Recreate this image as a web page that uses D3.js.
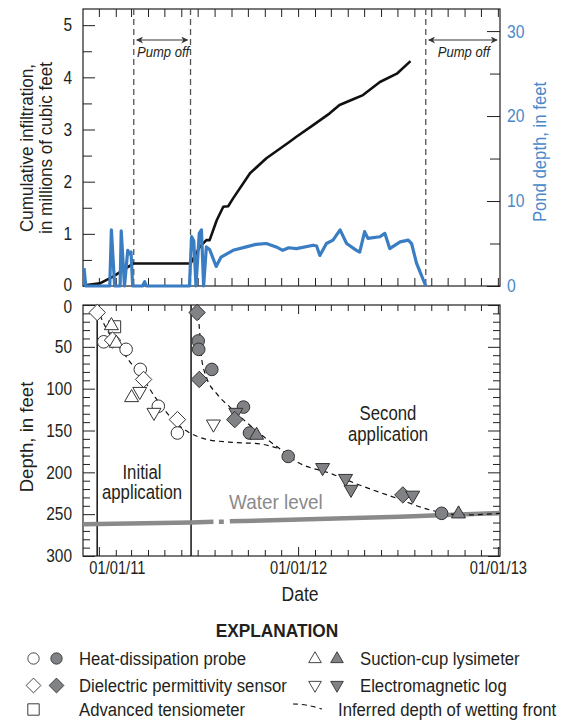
<!DOCTYPE html>
<html>
<head>
<meta charset="utf-8">
<script src="https://cdn.jsdelivr.net/npm/d3@7"></script>
<style>
  html, body { margin: 0; padding: 0; background: #fff; }
  svg { display: block; }
  text { font-family: "Liberation Sans", Arial, sans-serif; fill: #231f20; }
</style>
</head>
<body>
<svg id="chart" width="567" height="723"></svg>
<script>
// ---- Cumulative infiltration (millions of cubic feet) ----
const infilDates = ['2010-12-09','2011-01-02','2011-01-26','2011-02-14','2011-03-04','2011-06-17',
  '2011-07-04','2011-07-16','2011-07-22','2011-08-04','2011-08-16','2011-08-25','2011-09-03',
  '2011-10-04','2011-11-03','2011-12-15','2011-12-28','2012-01-27','2012-02-27','2012-03-16',
  '2012-04-10','2012-04-28','2012-05-29','2012-06-29','2012-07-24'];
const infilValues = [0.02,0.05,0.18,0.31,0.43,0.43,
  0.75,0.88,0.88,1.26,1.52,1.53,1.68,
  2.16,2.45,2.76,2.86,3.08,3.31,3.47,
  3.58,3.66,3.91,4.07,4.31];

// ---- Pond depth (feet) ----
const pondDates = ['2010-12-04','2010-12-07','2011-01-20','2011-01-23','2011-01-29','2011-02-08',
  '2011-02-10','2011-02-16','2011-02-22','2011-02-25','2011-02-28','2011-03-03','2011-03-21',
  '2011-03-25','2011-03-28','2011-06-15','2011-06-19','2011-06-23','2011-06-27','2011-07-03',
  '2011-07-07','2011-07-11','2011-07-16','2011-07-22','2011-08-03','2011-08-12','2011-09-03',
  '2011-09-27','2011-10-15','2011-11-03','2011-11-21','2011-12-03','2011-12-14','2011-12-28',
  '2012-01-28','2012-02-03','2012-02-09','2012-02-21','2012-03-04','2012-03-17','2012-03-29',
  '2012-04-16','2012-04-22','2012-05-01','2012-05-07','2012-05-29','2012-06-07','2012-06-16',
  '2012-07-05','2012-07-20','2012-07-26','2012-08-04','2012-08-21'];
const pondValues = [2.1,0,0,6.6,0,0,
  6.5,0,4.2,3.8,4.0,0,0,
  0.5,0,0,5.8,5.3,0,6.2,
  6.6,0,4.6,4.3,2.3,3.4,4.2,
  4.6,4.9,5.0,4.6,4.2,4.5,4.4,
  4.8,4.7,3.6,5.0,5.4,6.6,5.0,
  4.2,4.0,6.4,5.6,5.8,6.2,4.4,
  5.2,5.4,5.0,2.7,0];

// ---- Events ----
const pumpOffStarts = ['2011-03-05','2012-08-21'];
const pumpOffEnds   = ['2011-06-17','2013-01-04'];
const pumpLines     = ['2011-03-05','2011-06-17','2012-08-21'];
const applicationDates = ['2010-12-28','2011-06-18'];

// ---- Wetting-front observations (depth, feet) ----
const initialSensors = ['diamond','square','triangleUp','circle','diamond','triangleUp','circle',
  'circle','diamond','triangleUp','triangleDown','circle','triangleDown','diamond','circle','triangleDown'];
const initialDates = ['2010-12-28','2011-01-29','2011-01-23','2011-01-09','2011-01-25','2011-02-01',
  '2011-02-19','2011-03-17','2011-03-23','2011-03-01','2011-03-16','2011-04-19','2011-04-11',
  '2011-05-24','2011-05-24','2011-07-29'];
const initialDepths = [9,26,24,44,42,45,53,77,89,110,104,121,129,137,153,143];

const secondSensors = ['diamond','circle','circle','diamond','circle','circle','triangleDown','diamond',
  'circle','triangleUp','circle','triangleDown','triangleDown','triangleDown','diamond','triangleDown',
  'circle','triangleUp'];
const secondDates = ['2011-06-29','2011-07-01','2011-07-02','2011-07-03','2011-07-26','2011-09-22',
  '2011-09-08','2011-09-06','2011-10-03','2011-10-16','2011-12-13','2012-02-14','2012-03-27',
  '2012-04-06','2012-07-10','2012-07-28','2012-09-19','2012-10-20'];
const secondDepths = [9,43,53,89,77,122,129,137,153,155,181,195,208,221,227,228,249,249];

// ---- Inferred depth of wetting front ----
const front1Dates = ['2011-01-02','2011-01-09','2011-01-20','2011-02-04','2011-02-26','2011-03-22',
  '2011-04-13','2011-05-01','2011-05-23','2011-06-16','2011-07-13','2011-08-28','2011-10-22','2011-11-28'];
const front1Depths = [12,22,35,48,68,88,110,126,142,153,160,164,166,172];
const front2Dates = ['2011-07-01','2011-07-04','2011-07-07','2011-07-16','2011-08-04','2011-08-28',
  '2011-09-22','2011-11-03','2011-11-28','2011-12-13','2011-12-28','2012-02-27','2012-04-29',
  '2012-06-29','2012-08-29','2012-10-29','2013-01-04'];
const front2Depths = [12,34,62,86,106,122,137,160,172,180,187,201,217,231,245,251,249];

// ---- Water level (null marks missing record) ----
const waterDates = ['2010-12-02','2011-06-18','2011-07-29','2011-08-05','2011-08-08','2011-08-17',
  '2011-08-20','2011-08-28','2012-01-03','2012-07-04','2013-01-04'];
const waterDepths = [262,260,259,null,259,259,null,258.5,256.5,253,248.5];

const labelYears = [2011, 2012, 2013];
const sensorNames = ['Heat-dissipation probe','Dielectric permittivity sensor','Advanced tensiometer',
  'Suction-cup lysimeter','Electromagnetic log','Inferred depth of wetting front'];

// ---------------------------------------------------------------
const parse = d3.utcParse('%Y-%m-%d');
const svg = d3.select('#chart');
const ink = '#231f20';
const blue = '#3a7dc2';
const blueText = '#4a88c8';
const gray = '#808285';
const NARROW = 0.88;   // horizontal squeeze for a condensed look

const L = 83, R = 500;
const topY0 = 9, topY1 = 286;
const botY0 = 305, botY1 = 556;

const x = d3.scaleUtc()
  .domain([parse('2010-12-02'), parse('2013-01-04')])
  .range([L, R]);
const yInf = d3.scaleLinear().domain([0, 5.31]).range([topY1, topY0]);
const yPond = d3.scaleLinear().domain([0, 32.6]).range([topY1, topY0]);
const yDep = d3.scaleLinear().domain([0, 300]).range([botY0, botY1]);

const months = d3.utcMonth.range(parse('2011-01-01'), parse('2013-01-02'));

// condensed text helper
function label(str, px, py, o = {}) {
  const sx = o.sx ?? NARROW;
  const t = svg.append('text')
    .attr('transform', `translate(${px},${py})${o.rotate ? ` rotate(${o.rotate})` : ''} scale(${sx},1)`)
    .attr('font-size', o.size ?? 19)
    .attr('text-anchor', o.anchor ?? 'start')
    .text(str);
  if (o.fill) t.style('fill', o.fill);
  if (o.weight) t.attr('font-weight', o.weight);
  if (o.italic) t.attr('font-style', 'italic');
  return t;
}
// squeeze the tick labels an axis generator produced; the zero label can be
// nudged so it stays clear of the neighbouring panel's zero
function squeezeTicks(g, size, sx, fill, zeroShift = 0) {
  g.selectAll('text').each(function (d) {
    const t = d3.select(this);
    const tx = +t.attr('x') || 0;
    const ty = d === 0 ? zeroShift : 0;
    t.attr('x', 0).attr('transform', `translate(${tx},${ty}) scale(${sx},1)`)
      .attr('font-size', size).attr('font-family', null).style('fill', fill);
  });
}

function frame(y0, y1) {
  svg.append('rect').attr('x', L).attr('y', y0).attr('width', R - L).attr('height', y1 - y0)
    .attr('fill', 'none').attr('stroke', ink).attr('stroke-width', 1.2);
}

function monthTicks(y0, y1, len, majorLen) {
  const g = svg.append('g').attr('stroke', ink).attr('stroke-width', 1);
  months.forEach(m => {
    const l = m.getUTCMonth() === 0 ? majorLen : len;
    g.append('line').attr('x1', x(m)).attr('x2', x(m)).attr('y1', y0).attr('y2', y0 + l);
    g.append('line').attr('x1', x(m)).attr('x2', x(m)).attr('y1', y1).attr('y2', y1 - l);
  });
}

// ================= Top panel =================
frame(topY0, topY1);
monthTicks(topY0, topY1, 8, 8);

svg.append('g').attr('transform', `translate(${L},0)`)
  .call(d3.axisLeft(yInf).tickValues(d3.range(0.5, 5.5, 1)).tickSize(-9).tickFormat(''))
  .call(g => g.select('.domain').remove())
  .call(g => g.selectAll('line').attr('stroke', ink));
svg.append('g').attr('transform', `translate(${L},0)`)
  .call(d3.axisLeft(yInf).tickValues(d3.range(0, 6, 1)).tickSize(-12).tickPadding(11).tickFormat(d3.format('d')))
  .call(g => g.select('.domain').remove())
  .call(g => g.selectAll('line').attr('stroke', ink))
  .call(g => squeezeTicks(g, 18, 0.86, ink, -1.5));

svg.append('g').attr('transform', `translate(${R},0)`)
  .call(d3.axisRight(yPond).tickValues([5, 15, 25]).tickSize(-10).tickFormat(''))
  .call(g => g.select('.domain').remove())
  .call(g => g.selectAll('line').attr('stroke', ink));
svg.append('g').attr('transform', `translate(${R},0)`)
  .call(d3.axisRight(yPond).tickValues([0, 10, 20, 30]).tickSize(-13).tickPadding(7).tickFormat(d3.format('d')))
  .call(g => g.select('.domain').remove())
  .call(g => g.selectAll('line').attr('stroke', ink))
  .call(g => squeezeTicks(g, 18.5, 0.85, blueText));

// pump-off markers
svg.append('g').selectAll('line').data(pumpLines).join('line')
  .attr('x1', d => x(parse(d))).attr('x2', d => x(parse(d)))
  .attr('y1', topY0).attr('y2', topY1)
  .attr('stroke', '#555').attr('stroke-width', 1.3).attr('stroke-dasharray', '6,4');

const defs = svg.append('defs');
defs.append('marker').attr('id', 'arr').attr('viewBox', '0 0 10 10')
  .attr('refX', 9).attr('refY', 5)
  .attr('markerWidth', 9).attr('markerHeight', 7).attr('markerUnits', 'userSpaceOnUse')
  .attr('orient', 'auto-start-reverse')
  .append('path').attr('d', 'M0,0 L10,5 L0,10 L3,5Z').attr('fill', '#333');
pumpOffStarts.forEach((s, i) => {
  const xa = x(parse(s)) + 3, xb = x(parse(pumpOffEnds[i])) - 3;
  svg.append('line').attr('x1', xa).attr('x2', xb).attr('y1', 40).attr('y2', 40)
    .attr('stroke', '#333').attr('stroke-width', 1.1)
    .attr('marker-start', 'url(#arr)').attr('marker-end', 'url(#arr)');
  label('Pump off', (xa + xb) / 2 + 1, 57, { size: 14.5, anchor: 'middle', italic: true, sx: 0.9 });
});

// series
const infLine = d3.line().x((d, i) => x(parse(infilDates[i]))).y(d => yInf(d));
svg.append('path').attr('d', infLine(infilValues))
  .attr('fill', 'none').attr('stroke', '#111').attr('stroke-width', 2.6).attr('stroke-linejoin', 'round');

const pondLine = d3.line().x((d, i) => x(parse(pondDates[i]))).y(d => yPond(d));
svg.append('path').attr('d', pondLine(pondValues))
  .attr('fill', 'none').attr('stroke', blue).attr('stroke-width', 3.2).attr('stroke-linejoin', 'round');

// axis titles
label('Cumulative infiltration,', 33, 148, { rotate: -90, anchor: 'middle', sx: 0.9 });
label('in millions of cubic feet', 52, 148, { rotate: -90, anchor: 'middle', sx: 0.9 });
label('Pond depth, in feet', 546, 152, { rotate: -90, anchor: 'middle', fill: blueText, sx: 0.88 });

// ================= Bottom panel =================
frame(botY0, botY1);
monthTicks(botY0, botY1, 6, 9);

[[L, -1], [R, 1]].forEach(([xx, dir]) => {
  const axisFn = dir < 0 ? d3.axisLeft : d3.axisRight;
  svg.append('g').attr('transform', `translate(${xx},0)`)
    .call(axisFn(yDep).tickValues(d3.range(10, 300, 10).filter(v => v % 50)).tickSize(-7).tickFormat(''))
    .call(g => g.select('.domain').remove())
    .call(g => g.selectAll('line').attr('stroke', ink));
  svg.append('g').attr('transform', `translate(${xx},0)`)
    .call(axisFn(yDep).tickValues(d3.range(0, 301, 50)).tickSize(-12).tickPadding(11)
      .tickFormat(dir < 0 ? d3.format('d') : ''))
    .call(g => g.select('.domain').remove())
    .call(g => g.selectAll('line').attr('stroke', ink))
    .call(g => squeezeTicks(g, 18, 0.86, ink, 1.5));
});

// x tick labels (moved clear of an application line that sits on the tick)
labelYears.forEach(yr => {
  const d = new Date(Date.UTC(yr, 0, 1));
  let px = x(d);
  if (applicationDates.some(a => Math.abs(x(parse(a)) - px) < 10)) px += 18;
  label(d3.utcFormat('%m/%d/%y')(d), px, 574, { size: 17.5, anchor: 'middle', sx: 0.84 });
});
label('Date', 300, 601, { size: 19.5, anchor: 'middle', sx: 0.9 });
label('Depth, in feet', 33, 437, { rotate: -90, anchor: 'middle', sx: 0.98 });

// application lines
svg.append('g').selectAll('line').data(applicationDates).join('line')
  .attr('x1', d => x(parse(d))).attr('x2', d => x(parse(d)))
  .attr('y1', botY0).attr('y2', botY1).attr('stroke', ink).attr('stroke-width', 1.6);

// water level
const wl = d3.line().defined(d => d != null)
  .x((d, i) => x(parse(waterDates[i]))).y(d => yDep(d));
svg.append('path').attr('d', wl(waterDepths)).attr('fill', 'none')
  .attr('stroke', '#8a8a8a').attr('stroke-width', 4.5).attr('stroke-linecap', 'butt');
label('Water level', 229, 509, { size: 19.5, fill: '#8a8a8a', sx: 0.97 });

// inferred wetting fronts
const frontLine = (dates) => d3.line().curve(d3.curveMonotoneX)
  .x((d, i) => x(parse(dates[i]))).y(d => yDep(d));
[[front1Dates, front1Depths], [front2Dates, front2Depths]].forEach(([ds, vs]) => {
  svg.append('path').attr('d', frontLine(ds)(vs)).attr('fill', 'none')
    .attr('stroke', '#111').attr('stroke-width', 1.2).attr('stroke-dasharray', '5,4');
});

// phase labels
label('Initial', 142, 479, { anchor: 'middle', size: 19.5, sx: 0.86 });
label('application', 142, 499, { anchor: 'middle', size: 19.5, sx: 0.86 });
label('Second', 388, 420, { anchor: 'middle', size: 19.5, sx: 0.86 });
label('application', 388, 441, { anchor: 'middle', size: 19.5, sx: 0.86 });

// symbols
const shapes = {
  circle: 'M6.3,0A6.3,6.3,0,1,1,-6.3,0A6.3,6.3,0,1,1,6.3,0Z',
  diamond: 'M0,-8.2L8.2,0L0,8.2L-8.2,0Z',
  square: 'M-6,-6H6V6H-6Z',
  triangleUp: 'M0,-7.5L7,4.6L-7,4.6Z',
  triangleDown: 'M0,7.5L7,-4.6L-7,-4.6Z'
};
function drawSymbols(sensors, dates, depths, fill) {
  svg.append('g').selectAll('path').data(sensors).join('path')
    .attr('d', d => shapes[d])
    .attr('transform', (d, i) => `translate(${x(parse(dates[i]))},${yDep(depths[i])})`)
    .attr('fill', fill).attr('stroke', '#333').attr('stroke-width', 1);
}
drawSymbols(initialSensors, initialDates, initialDepths, '#fff');
drawSymbols(secondSensors, secondDates, secondDepths, gray);

// ================= Explanation =================
label('EXPLANATION', 277, 637, { anchor: 'middle', size: 19, weight: 'bold', sx: 0.91 });
const legendRows = [
  { col: 0, row: 0, shape: 'circle', filled: true, label: sensorNames[0] },
  { col: 0, row: 1, shape: 'diamond', filled: true, label: sensorNames[1] },
  { col: 0, row: 2, shape: 'square', filled: false, label: sensorNames[2] },
  { col: 1, row: 0, shape: 'triangleUp', filled: true, label: sensorNames[3] },
  { col: 1, row: 1, shape: 'triangleDown', filled: true, label: sensorNames[4] },
  { col: 1, row: 2, shape: null, filled: false, label: sensorNames[5] }
];
const rowY = [658.5, 685.5, 709.5];
const colX = [33.5, 315];
const textX = [79, 360];
legendRows.forEach(r => {
  const cy = rowY[r.row];
  let tx = textX[r.col];
  if (r.shape) {
    const sc = r.shape === 'square' ? 0.95 : 0.9;
    svg.append('path').attr('d', shapes[r.shape])
      .attr('transform', `translate(${colX[r.col]},${cy}) scale(${sc})`)
      .attr('fill', '#fff').attr('stroke', '#333').attr('stroke-width', 1);
    if (r.filled) {
      svg.append('path').attr('d', shapes[r.shape])
        .attr('transform', `translate(${colX[r.col] + (r.col ? 22 : 23)},${cy}) scale(${sc})`)
        .attr('fill', gray).attr('stroke', '#333').attr('stroke-width', 1);
    }
  } else {
    svg.append('path').attr('d', 'M293,704 Q306,704 322,709').attr('fill', 'none')
      .attr('stroke', '#111').attr('stroke-width', 1.1).attr('stroke-dasharray', '5,4');
    tx = 338;
  }
  label(r.label, tx, cy + 6.5, { size: 19, sx: 0.88 });
});
</script>
</body>
</html>
